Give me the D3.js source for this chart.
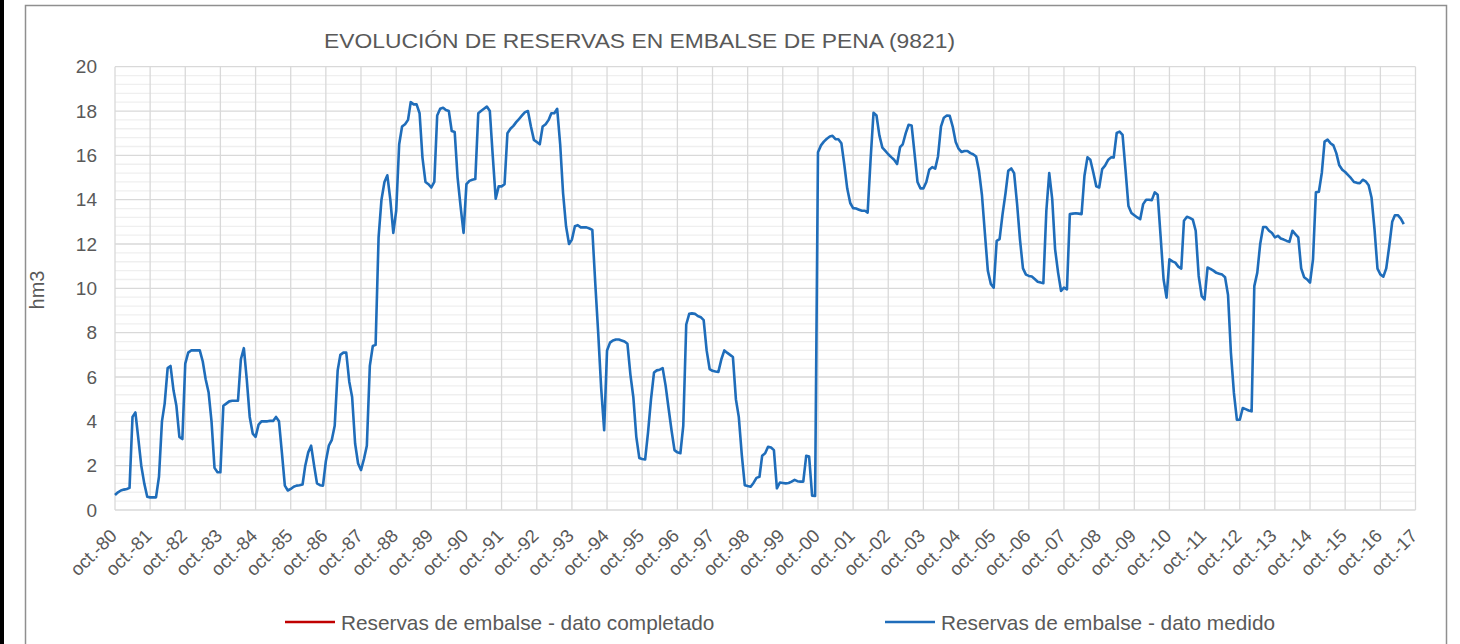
<!DOCTYPE html>
<html>
<head>
<meta charset="utf-8">
<script src="https://cdn.jsdelivr.net/npm/d3@7"></script>
<style>
  body { margin: 0; background: #fff; }
  svg { display: block; font-family: "Liberation Sans", Arial, sans-serif; }
</style>
</head>
<body>
<svg width="1460" height="644"></svg>
<script>
// serie mensual, un año hidrológico (oct-sep) por fila, desde oct-1980
const reservas80 = [0.68, 0.8, 0.88, 0.92, 0.95, 1.0, 4.2, 4.4, 3.2, 2.0, 1.2, 0.6];
const reservas81 = [0.57, 0.57, 0.57, 1.5, 4.0, 4.8, 6.4, 6.5, 5.4, 4.7, 3.3, 3.2];
const reservas82 = [6.6, 7.1, 7.2, 7.2, 7.2, 7.2, 6.7, 5.9, 5.3, 4.0, 1.9, 1.7];
const reservas83 = [1.7, 4.7, 4.8, 4.9, 4.93, 4.93, 4.93, 6.8, 7.3, 5.9, 4.2, 3.45];
const reservas84 = [3.3, 3.85, 4.0, 4.0, 4.0, 4.02, 4.02, 4.2, 4.0, 2.6, 1.1, 0.88];
const reservas85 = [0.95, 1.05, 1.1, 1.12, 1.15, 2.0, 2.6, 2.9, 2.0, 1.2, 1.12, 1.1];
const reservas86 = [2.2, 2.9, 3.15, 3.8, 6.3, 7.0, 7.1, 7.1, 5.8, 5.1, 3.0, 2.1];
const reservas87 = [1.8, 2.3, 2.9, 6.5, 7.4, 7.45, 12.3, 14.0, 14.8, 15.1, 14.0, 12.5];
const reservas88 = [13.5, 16.5, 17.3, 17.4, 17.6, 18.4, 18.3, 18.3, 17.9, 15.9, 14.8, 14.7];
const reservas89 = [14.55, 14.8, 17.8, 18.1, 18.15, 18.05, 18.0, 17.1, 17.05, 15.0, 13.7, 12.5];
const reservas90 = [14.7, 14.85, 14.9, 14.93, 17.9, 18.0, 18.1, 18.2, 18.0, 16.0, 14.05, 14.6];
const reservas91 = [14.6, 14.7, 17.0, 17.2, 17.33, 17.5, 17.65, 17.8, 17.95, 18.0, 17.3, 16.7];
const reservas92 = [16.6, 16.5, 17.3, 17.4, 17.6, 17.9, 17.9, 18.1, 16.5, 14.3, 12.8, 12.0];
const reservas93 = [12.2, 12.8, 12.85, 12.75, 12.75, 12.75, 12.7, 12.64, 10.2, 8.0, 5.5, 3.6];
const reservas94 = [7.2, 7.55, 7.65, 7.69, 7.69, 7.65, 7.6, 7.5, 6.1, 5.1, 3.3, 2.35];
const reservas95 = [2.3, 2.28, 3.5, 5.0, 6.2, 6.3, 6.33, 6.4, 5.6, 4.6, 3.6, 2.7];
const reservas96 = [2.6, 2.56, 3.8, 8.37, 8.85, 8.87, 8.85, 8.75, 8.7, 8.57, 7.2, 6.36];
const reservas97 = [6.28, 6.25, 6.23, 6.8, 7.2, 7.1, 7.0, 6.9, 5.0, 4.2, 2.5, 1.12];
const reservas98 = [1.08, 1.05, 1.22, 1.45, 1.5, 2.45, 2.56, 2.85, 2.82, 2.7, 0.98, 1.24];
const reservas99 = [1.22, 1.2, 1.22, 1.28, 1.36, 1.3, 1.28, 1.28, 2.45, 2.41, 0.65, 0.63];
const reservas00 = [16.14, 16.45, 16.62, 16.75, 16.85, 16.88, 16.73, 16.73, 16.55, 15.6, 14.5, 13.85];
const reservas01 = [13.62, 13.6, 13.55, 13.5, 13.5, 13.42, 15.84, 17.92, 17.8, 16.9, 16.35, 16.2];
const reservas02 = [16.05, 15.92, 15.8, 15.61, 16.37, 16.5, 17.0, 17.38, 17.35, 16.1, 14.8, 14.51];
const reservas03 = [14.51, 14.8, 15.35, 15.47, 15.4, 15.95, 17.3, 17.7, 17.8, 17.78, 17.3, 16.6];
const reservas04 = [16.3, 16.15, 16.2, 16.2, 16.1, 16.05, 15.95, 15.3, 14.2, 12.5, 10.8, 10.2];
const reservas05 = [10.03, 12.14, 12.22, 13.35, 14.3, 15.3, 15.41, 15.2, 13.8, 12.2, 10.9, 10.62];
const reservas06 = [10.56, 10.53, 10.42, 10.3, 10.26, 10.23, 13.5, 15.2, 14.03, 11.76, 10.71, 9.88];
const reservas07 = [10.03, 9.95, 13.35, 13.37, 13.39, 13.37, 13.35, 15.08, 15.91, 15.8, 15.23, 14.6];
const reservas08 = [14.55, 15.38, 15.54, 15.79, 15.91, 15.9, 17.01, 17.07, 16.92, 15.38, 13.72, 13.4];
const reservas09 = [13.3, 13.2, 13.12, 13.8, 14.0, 14.0, 13.98, 14.33, 14.22, 12.37, 10.41, 9.58];
const reservas10 = [11.31, 11.22, 11.16, 10.98, 10.89, 13.05, 13.23, 13.18, 13.1, 12.6, 10.56, 9.65];
const reservas11 = [9.5, 10.94, 10.88, 10.8, 10.7, 10.66, 10.62, 10.5, 9.7, 7.09, 5.28, 4.07];
const reservas12 = [4.07, 4.6, 4.55, 4.49, 4.45, 10.1, 10.71, 12.0, 12.77, 12.77, 12.6, 12.5];
const reservas13 = [12.3, 12.37, 12.25, 12.2, 12.14, 12.1, 12.6, 12.45, 12.3, 10.9, 10.5, 10.4];
const reservas14 = [10.26, 11.31, 14.33, 14.36, 15.23, 16.62, 16.71, 16.55, 16.45, 16.1, 15.55, 15.35];
const reservas15 = [15.25, 15.11, 14.97, 14.8, 14.76, 14.74, 14.9, 14.83, 14.65, 14.1, 12.67, 10.89];
const reservas16 = [10.63, 10.53, 10.9, 11.9, 13.0, 13.3, 13.3, 13.15, 12.9];

const datoMedido = [].concat(
  reservas80, reservas81, reservas82, reservas83, reservas84, reservas85, reservas86,
  reservas87, reservas88, reservas89, reservas90, reservas91, reservas92, reservas93,
  reservas94, reservas95, reservas96, reservas97, reservas98, reservas99, reservas00,
  reservas01, reservas02, reservas03, reservas04, reservas05, reservas06, reservas07,
  reservas08, reservas09, reservas10, reservas11, reservas12, reservas13, reservas14,
  reservas15, reservas16);
const datoCompletado = []; // no aparece en el gráfico

const ticksY = [0, 2, 4, 6, 8, 10, 12, 14, 16, 18, 20];
const etiquetasX = ["oct.-80","oct.-81","oct.-82","oct.-83","oct.-84","oct.-85","oct.-86","oct.-87",
  "oct.-88","oct.-89","oct.-90","oct.-91","oct.-92","oct.-93","oct.-94","oct.-95","oct.-96",
  "oct.-97","oct.-98","oct.-99","oct.-00","oct.-01","oct.-02","oct.-03","oct.-04","oct.-05",
  "oct.-06","oct.-07","oct.-08","oct.-09","oct.-10","oct.-11","oct.-12","oct.-13","oct.-14",
  "oct.-15","oct.-16","oct.-17"];

const titulo = "EVOLUCIÓN DE RESERVAS EN EMBALSE DE PENA (9821)";
const leyenda = [
  { nombre: "Reservas de embalse - dato completado", color: "#c00000" },
  { nombre: "Reservas de embalse - dato medido", color: "#1f6dba" }
];

const svg = d3.select("svg");
const gris = "#595959";

svg.append("rect").attr("width", 1460).attr("height", 644).attr("fill", "#fff");
svg.append("rect").attr("x", 0).attr("y", 0).attr("width", 4).attr("height", 644).attr("fill", "#000");
svg.append("rect").attr("x", 25.5).attr("y", 5.5).attr("width", 1421).attr("height", 700)
  .attr("fill", "none").attr("stroke", "#8f8f8f").attr("stroke-width", 1.5);

const inicio = new Date(1980, 9, 1);
const fechas = etiquetasX.map((d, i) => new Date(1980 + i, 9, 1));
const x = d3.scaleTime().domain([inicio, new Date(2017, 9, 1)]).range([115, 1415.5]);
const y = d3.scaleLinear().domain([0, 20]).range([510, 66.7]);

// rejilla secundaria
const menores = d3.range(0, 20.01, 0.4).filter(v => Math.abs(v / 2 - Math.round(v / 2)) > 1e-6);
svg.append("g").selectAll("line").data(menores).join("line")
  .attr("x1", 115).attr("x2", 1415.5)
  .attr("y1", d => y(d)).attr("y2", d => y(d))
  .attr("stroke", "#efefef").attr("stroke-width", 1.3);

// rejilla principal
svg.append("g").selectAll("line").data(ticksY).join("line")
  .attr("x1", 115).attr("x2", 1415.5)
  .attr("y1", d => y(d)).attr("y2", d => y(d))
  .attr("stroke", "#d9d9d9").attr("stroke-width", 1.3);
svg.append("g").selectAll("line").data(fechas).join("line")
  .attr("x1", d => x(d)).attr("x2", d => x(d))
  .attr("y1", y(0)).attr("y2", y(20))
  .attr("stroke", "#d9d9d9").attr("stroke-width", 1.3);

// eje y
svg.append("g").selectAll("text").data(ticksY).join("text")
  .attr("x", 97).attr("y", d => y(d)).attr("dy", "0.35em")
  .attr("text-anchor", "end").attr("font-size", 19).attr("fill", gris)
  .text(d => d);

// eje x
svg.append("g").selectAll("text").data(fechas).join("text")
  .attr("text-anchor", "end").attr("font-size", 18.5).attr("fill", gris)
  .attr("transform", d => `translate(${x(d) + 3},537) rotate(-45)`)
  .text((d, i) => etiquetasX[i]);

svg.append("text").attr("font-size", 20).attr("fill", gris).attr("text-anchor", "middle")
  .attr("transform", "translate(44,290) rotate(-90)").text("hm3");

svg.append("text").attr("x", 324).attr("y", 47.7).attr("font-size", 20).attr("fill", gris)
  .attr("textLength", 631).attr("lengthAdjust", "spacingAndGlyphs").text(titulo);

// series
const linea = d3.line()
  .x((d, i) => x(new Date(1980, 9 + i, 1)))
  .y(d => y(d));

svg.append("path").datum(datoCompletado).attr("d", linea)
  .attr("fill", "none").attr("stroke", leyenda[0].color).attr("stroke-width", 2.6);
svg.append("path").datum(datoMedido).attr("d", linea)
  .attr("fill", "none").attr("stroke", leyenda[1].color).attr("stroke-width", 2.6)
  .attr("stroke-linejoin", "round");

// leyenda
const posLeyenda = [285, 885];
const itemLeyenda = svg.append("g").selectAll("g").data(leyenda).join("g")
  .attr("transform", (d, i) => `translate(${posLeyenda[i]},622)`);
itemLeyenda.append("line").attr("x1", 0).attr("x2", 50)
  .attr("stroke", d => d.color).attr("stroke-width", 2.6);
itemLeyenda.append("text").attr("x", 56).attr("y", 7.5).attr("font-size", 20.8).attr("fill", gris)
  .text(d => d.nombre);
</script>
</body>
</html>
